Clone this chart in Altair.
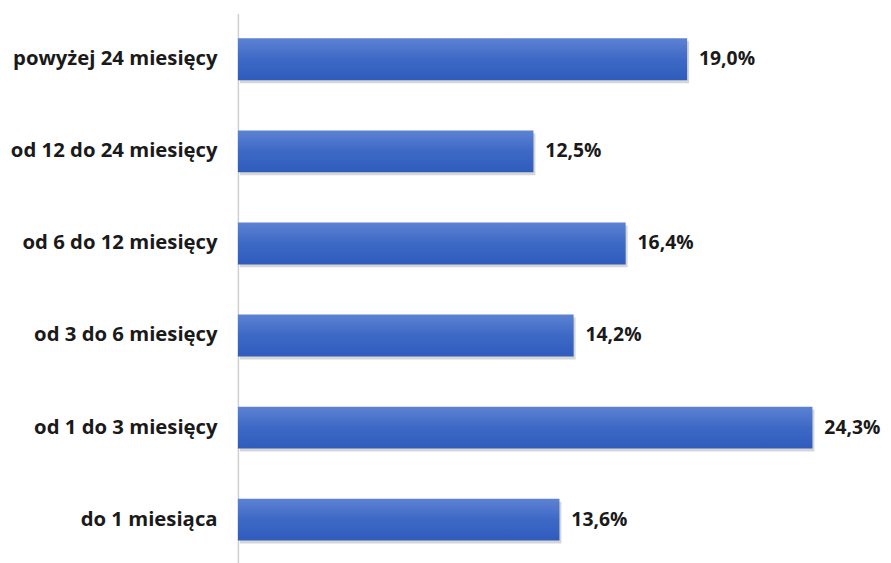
import altair as alt
import pandas as pd

categories = [
    "powyżej 24 miesięcy",
    "od 12 do 24 miesięcy",
    "od 6 do 12 miesięcy",
    "od 3 do 6 miesięcy",
    "od 1 do 3 miesięcy",
    "do 1 miesiąca",
]
values = [19.0, 12.5, 16.4, 14.2, 24.3, 13.6]

df = pd.DataFrame({"cat": categories, "val": values})
df["label"] = [f"{v:.1f}".replace(".", ",") + "%" for v in values]

FONT = "Open Sans"
W, H = 651, 557
PX_PER_PCT = 23.86

x = alt.X("val:Q", scale=alt.Scale(domain=[0, W / PX_PER_PCT], nice=False, zero=True), axis=None)
y = alt.Y(
    "cat:N",
    sort=categories,
    scale=alt.Scale(paddingInner=0.545, paddingOuter=0.27),
    axis=alt.Axis(
        title=None,
        ticks=False,
        grid=False,
        domainColor="#cfcfcf",
        domainWidth=1.5,
        labelFont=FONT,
        labelFontWeight="bold",
        labelFontSize=20.5,
        labelColor="#1a1a1a",
        labelPadding=21,
        labelLimit=400,
    ),
)

shadow = alt.Chart(df).mark_bar(
    color="#000000", opacity=0.16, xOffset=2, yOffset=3
).encode(x=x, y=y)

bars = alt.Chart(df).mark_bar(
    color=alt.Gradient(
        gradient="linear",
        x1=0, y1=0, x2=0, y2=1,
        stops=[
            alt.GradientStop(color="#5d82d2", offset=0),
            alt.GradientStop(color="#3d69c6", offset=0.5),
            alt.GradientStop(color="#2f5cbc", offset=1),
        ],
    )
).encode(x=x, y=y)

text = alt.Chart(df).mark_text(
    align="left", baseline="middle", dx=12, font=FONT, fontWeight="bold",
    fontSize=19.5, color="#1a1a1a"
).encode(x=x, y=y, text="label:N")

chart = (
    alt.layer(shadow, bars, text)
    .properties(
        width=W,
        height=H,
        autosize=alt.AutoSizeParams(type="none"),
        padding={"left": 232, "top": 3, "right": 0, "bottom": 0},
        view=alt.ViewBackground(strokeWidth=0, strokeOpacity=0),
    )
    .configure_view(strokeWidth=0, strokeOpacity=0)
    .configure(background="white")
)

chart.save("out.html", embed_options={"renderer": "svg", "actions": False})
